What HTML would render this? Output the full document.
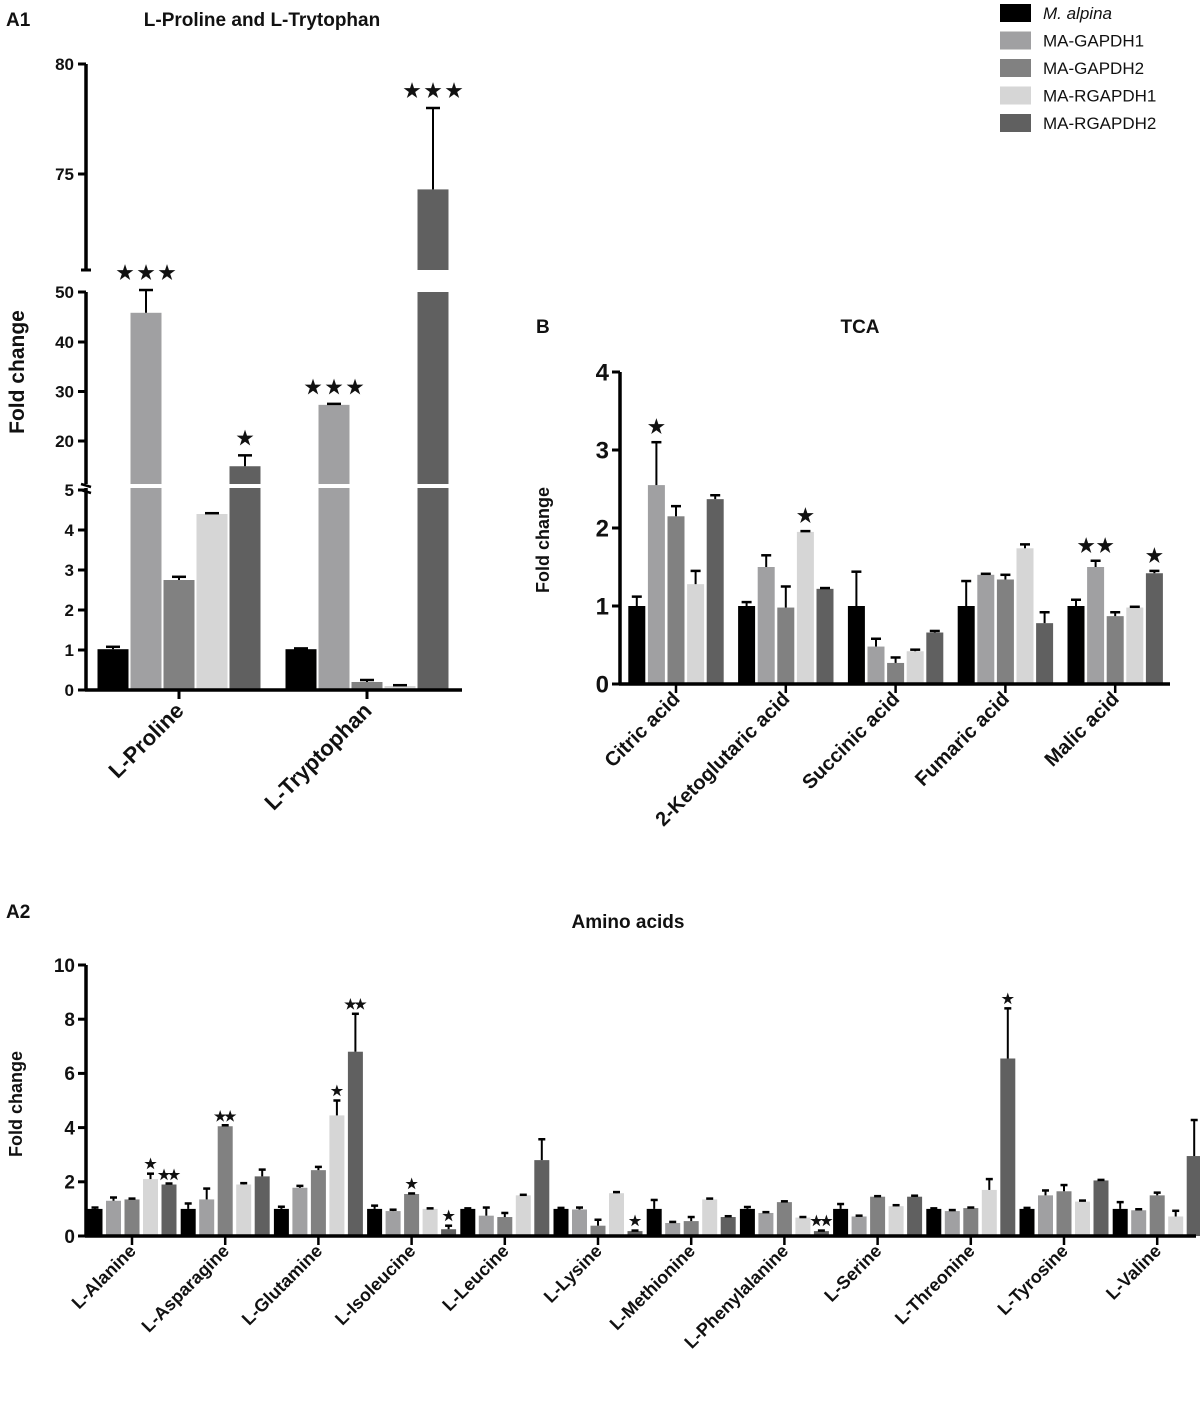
<!DOCTYPE html>
<html><head><meta charset="utf-8">
<style>
body{margin:0;background:#fff;}
svg{display:block;font-family:"Liberation Sans",Arial,sans-serif;}
text{font-weight:bold;fill:#111;}
</style></head>
<body>
<svg id="fig" width="1200" height="1416" viewBox="0 0 1200 1416" xmlns="http://www.w3.org/2000/svg">
<text x="6" y="26" font-size="19">A1</text>
<text x="262" y="26" font-size="19" text-anchor="middle">L-Proline and L-Trytophan</text>
<text x="536" y="333" font-size="19">B</text>
<text x="860" y="333" font-size="19" text-anchor="middle">TCA</text>
<text x="6" y="918" font-size="19">A2</text>
<text x="628" y="928" font-size="19" text-anchor="middle">Amino acids</text>
<text transform="translate(24,372) rotate(-90)" font-size="21" text-anchor="middle">Fold change</text>
<text transform="translate(549,540) rotate(-90)" font-size="18" text-anchor="middle">Fold change</text>
<text transform="translate(22,1104) rotate(-90)" font-size="18" text-anchor="middle">Fold change</text>
<g id="legend"></g>
<g id="a1"></g>
<g id="b"></g>
<g id="a2"></g>
</svg>
<script>
const seriesNames=["M. alpina","MA-GAPDH1","MA-GAPDH2","MA-RGAPDH1","MA-RGAPDH2"];
const colors=["#000000","#a0a0a2","#818181","#d6d6d6","#606060"];
// A1 data
const a1Cats=["L-Proline","L-Tryptophan"];
const a1Vals=[[1.02,45.8,2.75,4.4,14.8],[1.02,27.2,0.2,0.1,74.3]];
const a1Err=[[1.08,50.4,2.83,4.42,17],[1.04,27.3,0.25,0.12,78]];
const a1Stars=[[0,3,0,0,1],[0,3,0,0,3]];
// B data
const bCats=["Citric acid","2-Ketoglutaric acid","Succinic acid","Fumaric acid","Malic acid"];
const bVals=[[1.0,2.55,2.15,1.28,2.37],[1.0,1.5,0.98,1.95,1.22],[1.0,0.48,0.27,0.42,0.66],[1.0,1.4,1.34,1.74,0.78],[1.0,1.5,0.87,0.98,1.42]];
const bErr=[[1.12,3.1,2.28,1.45,2.42],[1.05,1.65,1.25,1.96,1.23],[1.44,0.58,0.34,0.44,0.68],[1.32,1.4,1.4,1.79,0.92],[1.08,1.58,0.92,0.99,1.45]];
const bStars=[[0,1,0,0,0],[0,0,0,1,0],[0,0,0,0,0],[0,0,0,0,0],[0,2,0,0,1]];
const bTicks=[0,1,2,3,4];
// A2 data
const a2Cats=["L-Alanine","L-Asparagine","L-Glutamine","L-Isoleucine","L-Leucine","L-Lysine","L-Methionine","L-Phenylalanine","L-Serine","L-Threonine","L-Tyrosine","L-Valine"];
const a2Vals=[[1.0,1.3,1.35,2.1,1.9],[1.0,1.35,4.05,1.9,2.2],[1.0,1.78,2.43,4.45,6.8],[1.0,0.92,1.55,1.0,0.25],[1.0,0.75,0.7,1.5,2.8],[1.0,0.98,0.38,1.58,0.18],[1.0,0.48,0.55,1.35,0.7],[1.0,0.85,1.25,0.68,0.18],[1.0,0.72,1.45,1.1,1.45],[1.0,0.92,1.03,1.7,6.55],[1.0,1.5,1.65,1.27,2.05],[1.0,0.95,1.5,0.72,2.95]];
const a2Err=[[1.05,1.42,1.38,2.3,1.9],[1.2,1.75,4.05,1.95,2.45],[1.08,1.85,2.55,5.0,8.2],[1.12,0.97,1.57,1.02,0.38],[1.02,1.05,0.85,1.52,3.57],[1.0,1.05,0.6,1.62,0.2],[1.33,0.52,0.7,1.38,0.73],[1.07,0.88,1.28,0.7,0.2],[1.18,0.75,1.47,1.1,1.45],[1.02,0.93,1.05,2.1,8.4],[1.0,1.68,1.88,1.27,2.07],[1.25,0.96,1.6,0.93,4.28]];
const a2Stars=[[0,0,0,1,2],[0,0,2,0,0],[0,0,0,1,2],[0,0,1,0,1],[0,0,0,0,0],[0,0,0,0,1],[0,0,0,0,0],[0,0,0,0,2],[0,0,0,0,0],[0,0,0,0,1],[0,0,0,0,0],[0,0,0,0,0]];
const a2Ticks=[0,2,4,6,8,10];

const NS="http://www.w3.org/2000/svg";
function mk(parent,tag,attrs,txt){const e=document.createElementNS(NS,tag);for(const k in attrs)e.setAttribute(k,attrs[k]);if(txt!==undefined)e.textContent=txt;parent.appendChild(e);return e;}

// legend
const lg=document.getElementById('legend');
seriesNames.forEach((n,i)=>{
  const y=12+i*27.5;
  const r=mk(lg,'rect',{x:1000,y:y-8,width:31,height:18,fill:colors[i]});
  
  
  const t=mk(lg,'text',{x:1043,y:y+7,'font-size':17,'font-style':i===0?'italic':'normal'},n);
  t.style.fontWeight='normal';
  
  
});

function drawErr(g,x,y1,y2,w){
  if(Math.abs(y1-y2)<0.5){y2=y1-1;}
  mk(g,'line',{x1:x,x2:x,y1:y1,y2:y2,stroke:'#000','stroke-width':2});
  mk(g,'line',{x1:x-w/2,x2:x+w/2,y1:y2,y2:y2,stroke:'#000','stroke-width':2.5});
}
function drawStars(g,x,y,n,size,sp){
  for(let k=0;k<n;k++){
    const t=mk(g,'text',{x:x+(k-(n-1)/2)*sp,y:y,'font-size':size,'text-anchor':'middle',fill:'#231815'},'★');
    
    
  }
}

// ===== A1 (broken axis) =====
(function(){
  const g=document.getElementById('a1');
  const ax=86;
  function yA1(v){
    if(v<=5) return 690-v*40;
    if(v<=60) return 292+(50-v)*4.95;
    return 64+(80-v)*22;
  }
  const segs=[[0,5,690,488],[11,50,484,292],[70.6,80,270,64]];
  const groupCenter=[179,367], sp=33, bw=31;
  a1Cats.forEach((c,gi)=>{
    a1Vals[gi].forEach((v,si)=>{
      const x=groupCenter[gi]+(si-2)*sp;
      segs.forEach((s,k)=>{
        if(v>s[0]){
          const top = v>=s[1]? s[3] : (k===0? 690-v*40 : k===1? 292+(50-v)*4.95 : 64+(80-v)*22);
          const r=mk(g,'rect',{x:x-bw/2,y:top,width:bw,height:s[2]-top,fill:colors[si]});
          
          
        }
      });
      const topY=yA1(v), eY=yA1(a1Err[gi][si]);
      drawErr(g,x,topY,eY,14);
      if(a1Stars[gi][si]) drawStars(g,x,eY-11,a1Stars[gi][si],19,21);
    });
    const lab=mk(g,'text',{transform:`translate(${groupCenter[gi]+6},${712}) rotate(-45)`,'font-size':22,'text-anchor':'end'},c);
    
    
    mk(g,'line',{x1:groupCenter[gi],x2:groupCenter[gi],y1:690,y2:699,stroke:'#000','stroke-width':3});
  });
  segs.forEach(s=>mk(g,'line',{x1:ax,x2:ax,y1:s[2],y2:s[3],stroke:'#000','stroke-width':3.5}));
  mk(g,'line',{x1:ax-1,x2:462,y1:690,y2:690,stroke:'#000','stroke-width':3.5});
  mk(g,'line',{x1:ax-5,x2:ax+5,y1:270,y2:270,stroke:'#000','stroke-width':3});
  mk(g,'line',{x1:ax-5,x2:ax+5,y1:484,y2:487,stroke:'#000','stroke-width':2.5});
  mk(g,'line',{x1:ax-5,x2:ax+5,y1:490,y2:493,stroke:'#000','stroke-width':2.5});
  const tks=[[0,690],[1,650],[2,610],[3,570],[4,530],[5,490],[20,441],[30,391.5],[40,342],[50,292],[75,174],[80,64]];
  tks.forEach(t=>{
    mk(g,'line',{x1:ax-8,x2:ax,y1:t[1],y2:t[1],stroke:'#000','stroke-width':3});
    const tx=mk(g,'text',{x:ax-12,y:t[1]+6,'font-size':17,'text-anchor':'end'},t[0]);
    
    
  });
})();

function grouped(g,cats,vals,errs,stars,ticks,o){
  const y=v=>o.y0-v*o.ppu;
  cats.forEach((c,gi)=>{
    const cx=o.x0+gi*o.gsp;
    vals[gi].forEach((v,si)=>{
      const x=cx+(si-2)*o.sp;
      const r=mk(g,'rect',{x:x-o.bw/2,y:y(v),width:o.bw,height:o.y0-y(v),fill:colors[si]});
      
      
      drawErr(g,x,y(v),y(errs[gi][si]),o.cap);
      if(stars[gi][si]) drawStars(g,x,y(errs[gi][si])-o.starOff,stars[gi][si],o.starSize,o.starSp);
    });
    mk(g,'line',{x1:cx,x2:cx,y1:o.y0,y2:o.y0+9,stroke:'#000','stroke-width':2.5});
    const lab=mk(g,'text',{transform:`translate(${cx+5},${o.y0+o.labOff}) rotate(-45)`,'font-size':o.labSize,'text-anchor':'end'},c);
    
    
  });
  mk(g,'line',{x1:o.ax,x2:o.ax,y1:o.y0+1,y2:y(ticks[ticks.length-1]),stroke:'#000','stroke-width':3.5});
  mk(g,'line',{x1:o.ax-1,x2:o.xEnd,y1:o.y0,y2:o.y0,stroke:'#000','stroke-width':3.5});
  ticks.forEach(t=>{
    mk(g,'line',{x1:o.ax-8,x2:o.ax,y1:y(t),y2:y(t),stroke:'#000','stroke-width':3});
    const tx=mk(g,'text',{x:o.ax-11,y:y(t)+o.tickSize*0.36,'font-size':o.tickSize,'text-anchor':'end'},t);
    
    
  });
}
grouped(document.getElementById('b'),bCats,bVals,bErr,bStars,bTicks,
  {ax:620,y0:684,ppu:78,x0:676,gsp:109.8,sp:19.6,bw:17,cap:10,xEnd:1170,starOff:9,starSize:19,starSp:19,labOff:16,labSize:20,tickSize:24});
grouped(document.getElementById('a2'),a2Cats,a2Vals,a2Err,a2Stars,a2Ticks,
  {ax:86,y0:1236,ppu:27.1,x0:132,gsp:93.2,sp:18.5,bw:15,cap:7,xEnd:1196,starOff:5,starSize:14,starSp:10,labOff:16,labSize:18,tickSize:19});
</script>
</body></html>
